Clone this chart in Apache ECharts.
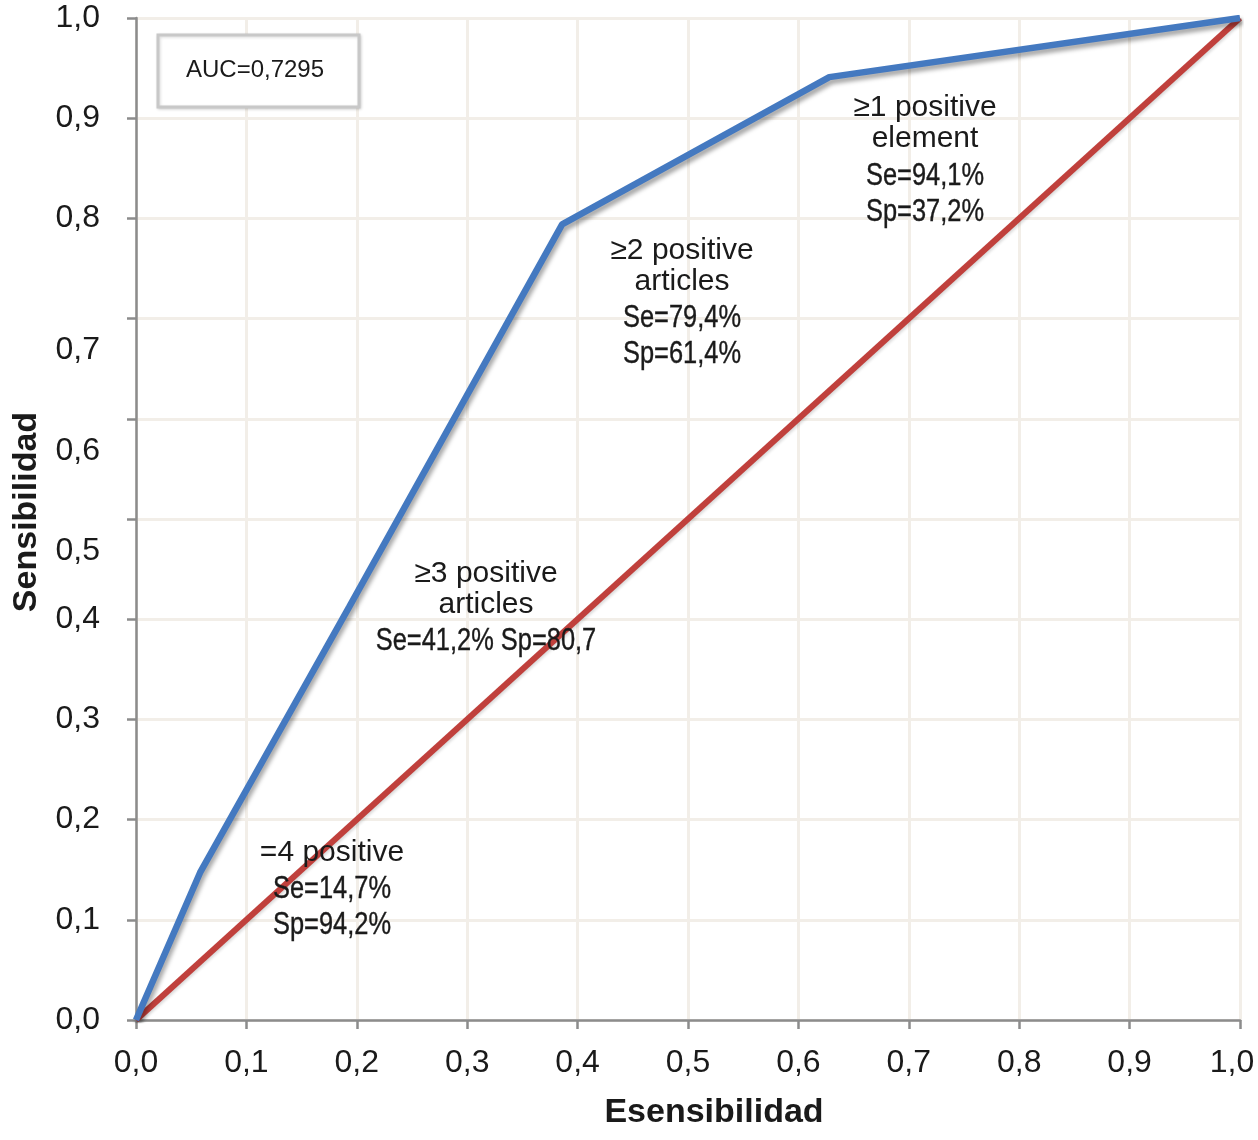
<!DOCTYPE html>
<html>
<head>
<meta charset="utf-8">
<script src="https://cdn.jsdelivr.net/npm/echarts@6/dist/echarts.min.js"></script>
<style>
html,body{margin:0;padding:0;background:#fff;overflow:hidden;}
#chart{width:1258px;height:1140px;}
</style>
</head>
<body>
<div id="chart"></div>
<script>
// ROC curve points: [1 - specificity, sensitivity]
const rocFPR = [0, 0.058, 0.193, 0.386, 0.628, 1];
const rocSens = [0, 0.147, 0.412, 0.794, 0.941, 1];
// Reference (chance) diagonal
const refX = [0, 1];
const refY = [0, 1];
const aucText = 'AUC=0,7295';
const xTitle = 'Esensibilidad';
const yTitle = 'Sensibilidad';
const ann1Head = ['≥1 positive', 'element'];
const ann1Stats = ['Se=94,1%', 'Sp=37,2%'];
const ann2Head = ['≥2 positive', 'articles'];
const ann2Stats = ['Se=79,4%', 'Sp=61,4%'];
const ann3Head = ['≥3 positive', 'articles'];
const ann3Stats = ['Se=41,2% Sp=80,7'];
const ann4Head = ['=4 positive'];
const ann4Stats = ['Se=14,7%', 'Sp=94,2%'];

const fmt = v => v.toFixed(1).replace('.', ',');
const shifted = ['0,5', '0,6', '0,7'];

const chart = echarts.init(document.getElementById('chart'));
const FONT = 'Liberation Sans, Arial, Helvetica, sans-serif';
const INK = '#1a1a1a';

function headText(lines, cx, top) {
  return {type: 'text', x: cx, y: top, z: 11,
    style: {text: lines.join('\n'), font: '30px ' + FONT, lineHeight: 31, fill: INK, textAlign: 'center', textVerticalAlign: 'top'}};
}
function statText(lines, cx, top) {
  return {type: 'text', x: cx, y: top, scaleX: 0.82, originX: 0, z: 11,
    style: {text: lines.join('\n'), font: '31px ' + FONT, lineHeight: 36, fill: INK, textAlign: 'center', textVerticalAlign: 'top',
            stroke: INK, lineWidth: 0.4}};
}

chart.setOption({
  animation: false,
  backgroundColor: '#ffffff',
  grid: {left: 136, right: 18, top: 18, bottom: 120, containLabel: false, outerBoundsMode: 'none'},
  xAxis: {
    type: 'value', min: 0, max: 1, interval: 0.1,
    name: xTitle, nameLocation: 'middle', nameGap: 76,
    nameTextStyle: {fontFamily: FONT, fontWeight: 'bold', fontSize: 34, color: INK, padding: [0, 0, 0, 52]},
    axisLine: {lineStyle: {color: '#8c8c8c', width: 2.5}},
    axisTick: {show: true, length: 9, lineStyle: {color: '#8c8c8c', width: 2.5}},
    axisLabel: {
      fontFamily: FONT, fontSize: 32, color: INK, margin: 27, showMaxLabel: true, showMinLabel: true,
      formatter: v => (v >= 1 ? '{r|' + fmt(v) + '}' : fmt(v)),
      rich: {r: {fontFamily: FONT, fontSize: 32, color: INK, padding: [0, 16, 0, 0]}}
    },
    splitLine: {show: true, lineStyle: {color: '#f2eee8', width: 3}}
  },
  yAxis: {
    type: 'value', min: 0, max: 1, interval: 0.1,
    name: yTitle, nameLocation: 'middle', nameGap: 92, nameRotate: 90,
    nameTextStyle: {fontFamily: FONT, fontWeight: 'bold', fontSize: 34, color: INK, padding: [0, 0, 0, 14]},
    axisLine: {show: true, lineStyle: {color: '#8c8c8c', width: 2.5}},
    axisTick: {show: true, length: 9, lineStyle: {color: '#8c8c8c', width: 2.5}},
    axisLabel: {
      fontFamily: FONT, fontSize: 32, color: INK, margin: 36,
      formatter: v => { const s = fmt(v); return shifted.includes(s) ? '{s|' + s + '}' : s; },
      rich: {s: {fontFamily: FONT, fontSize: 32, color: INK, padding: [64, 0, 0, 0]}}
    },
    splitLine: {show: true, lineStyle: {color: '#f2eee8', width: 3}}
  },
  series: [
    {
      type: 'line', name: 'Referencia', data: refX.map((x, i) => [x, refY[i]]),
      symbol: 'none', z: 2,
      lineStyle: {color: '#c0403c', width: 6, shadowColor: 'rgba(0,0,0,0.15)', shadowBlur: 3, shadowOffsetX: 1, shadowOffsetY: 2}
    },
    {
      type: 'line', name: 'ROC', data: rocFPR.map((x, i) => [x, rocSens[i]]),
      symbol: 'none', z: 3,
      lineStyle: {color: '#4479c0', width: 6.5, shadowColor: 'rgba(0,0,0,0.35)', shadowBlur: 4, shadowOffsetX: 2, shadowOffsetY: 4}
    }
  ],
  graphic: [
    {type: 'rect', shape: {x: 158, y: 35, width: 201, height: 72},
     style: {fill: '#ffffff', stroke: '#c8c8c8', lineWidth: 3, shadowColor: 'rgba(0,0,0,0.15)', shadowBlur: 3, shadowOffsetX: 1, shadowOffsetY: 1}, z: 10},
    {type: 'text', x: 255, y: 70, z: 11,
     style: {text: aucText, font: '24px ' + FONT, fill: INK, textAlign: 'center', textVerticalAlign: 'middle'}},
    headText(ann1Head, 925, 92),
    statText(ann1Stats, 925, 158),
    headText(ann2Head, 682, 235),
    statText(ann2Stats, 682, 300),
    headText(ann3Head, 486, 558),
    statText(ann3Stats, 486, 623),
    headText(ann4Head, 332, 837),
    statText(ann4Stats, 332, 871)
  ]
});
</script>
</body>
</html>
